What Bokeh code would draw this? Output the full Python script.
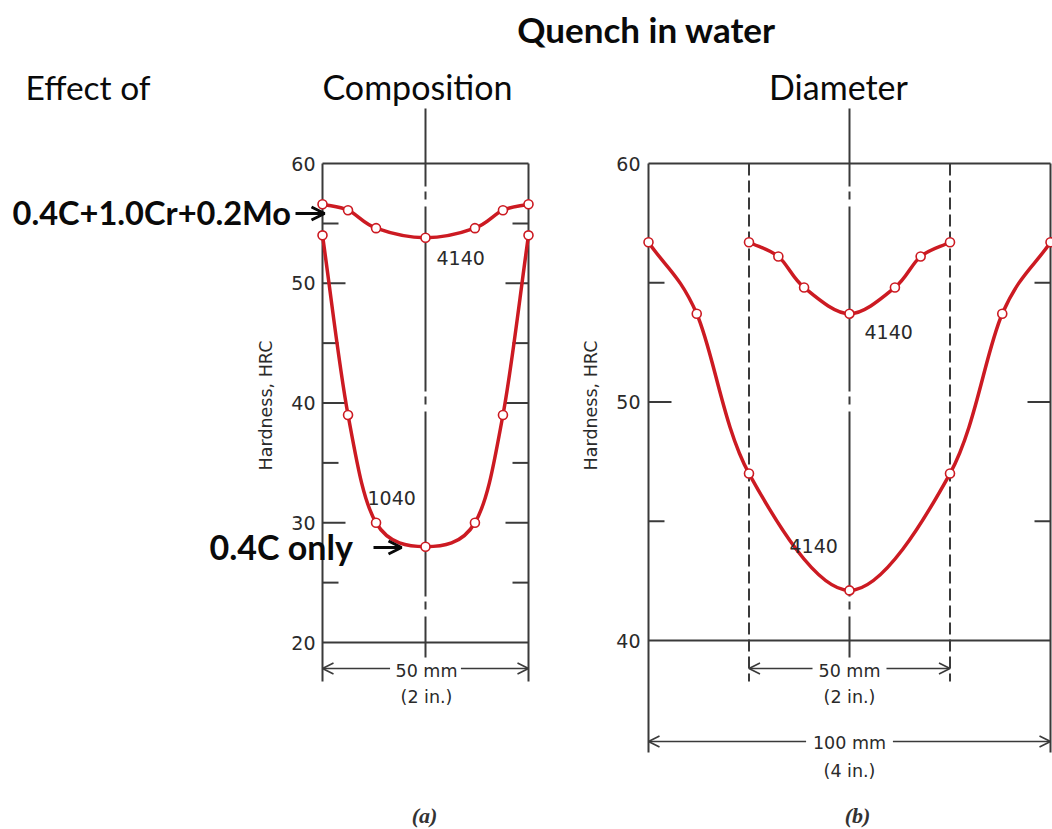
import numpy as np
from bokeh.plotting import figure
from bokeh.models import Range1d, ColumnDataSource, Arrow, OpenHead
from bokeh.core.properties import value
from bokeh.embed import file_html
from bokeh.resources import INLINE

# ---------------- data ----------------
# (a) Effect of composition: 50 mm (2 in.) bars quenched in water
pos_a_mm = [0, 6.2, 13, 25, 37, 43.8, 50]
hrc_a_4140 = [56.6, 56.1, 54.6, 53.8, 54.6, 56.1, 56.6]
hrc_a_1040 = [54, 39, 30, 28, 30, 39, 54]

# (b) Effect of diameter: 4140 quenched in water
pos_b50_mm = [-25, -17.7, -11.3, 0, 11.3, 17.7, 25]
hrc_b50_4140 = [56.7, 56.1, 54.8, 53.7, 54.8, 56.1, 56.7]
pos_b100_mm = [-50, -38, -25, 0, 25, 38, 50]
hrc_b100_4140 = [56.7, 53.7, 47.0, 42.1, 47.0, 53.7, 56.7]

# axis ticks
ticks_a_major = [30, 40, 50]
ticks_a_minor = [25, 35, 45, 55]
labels_a = [20, 30, 40, 50, 60]
ticks_b_major = [50]
ticks_b_minor = [45, 55]
labels_b = [40, 50, 60]

# ---------------- layout ----------------
W, H, M = 1052, 829, 0
RED = "#cc1a22"
INK = "#3a3a3a"
TXT = "#2a2a2a"


def xr(anchor_px, anchor_val, s):
    return Range1d(anchor_val + (M - anchor_px) / s, anchor_val + (M + W - anchor_px) / s)


def yr(anchor_px, anchor_val, s):
    return Range1d(anchor_val - (M + H - anchor_px) / s, anchor_val + (anchor_px - M) / s)


SXA, SYA = 4.12, 11.975      # panel (a) px per mm / per HRC
SXB, SYB = 4.02, 23.85       # panel (b)

p = figure(width=W, height=H, output_backend="svg", toolbar_location=None,
           title=None, x_axis_location=None, y_axis_location=None,
           x_range=xr(322, 0, SXA), y_range=yr(163, 60, SYA),
           min_border=0, outline_line_color=None,
           background_fill_color="white", border_fill_color="white")
p.extra_x_ranges = {"xb": xr(849, 0, SXB), "px": Range1d(M, M + W)}
p.extra_y_ranges = {"yb": yr(163, 60, SYB), "py": Range1d(M + H, M)}
p.xgrid.visible = False
p.ygrid.visible = False

A = dict()                                   # panel (a) ranges (default)
B = dict(x_range_name="xb", y_range_name="yb")
APX = dict(y_range_name="py")                # x in mm (a), y in page px
BPX = dict(x_range_name="xb", y_range_name="py")
PX = dict(x_range_name="px", y_range_name="py")

box = dict(line_color=INK, line_width=2)

# ---------- panel (a) frame ----------
p.segment(x0=[0, 0], y0=[60, 20], x1=[50, 50], y1=[60, 20], **box, **A)
p.segment(x0=[0, 50], y0=[163, 163], x1=[0, 50], y1=[681, 681], **box, **APX)
p.line(x=[25, 25], y=[108, 657], line_color=INK, line_width=2,
       line_dash="185 5 8 7", line_dash_offset=107, **APX)
for ticks, ln in ((ticks_a_major, 23 / SXA), (ticks_a_minor, 16 / SXA)):
    p.segment(x0=[0] * len(ticks), y0=ticks, x1=[ln] * len(ticks), y1=ticks, **box, **A)
    p.segment(x0=[50] * len(ticks), y0=ticks, x1=[50 - ln] * len(ticks), y1=ticks, **box, **A)

# ---------- panel (b) frame ----------
p.segment(x0=[-50, -50], y0=[60, 40], x1=[50, 50], y1=[60, 40], **box, **B)
p.segment(x0=[-50, 50], y0=[163, 163], x1=[-50, 50], y1=[752, 752], **box, **BPX)
p.segment(x0=[-25, 25], y0=[163, 163], x1=[-25, 25], y1=[681, 681],
          line_color=INK, line_width=2, line_dash="12 5", **BPX)
p.line(x=[0, 0], y=[108, 657], line_color=INK, line_width=2,
       line_dash="185 5 8 7", line_dash_offset=107, **BPX)
for ticks, ln in ((ticks_b_major, 23 / SXB), (ticks_b_minor, 16 / SXB)):
    p.segment(x0=[-50] * len(ticks), y0=ticks, x1=[-50 + ln] * len(ticks), y1=ticks, **box, **B)
    p.segment(x0=[50] * len(ticks), y0=ticks, x1=[50 - ln] * len(ticks), y1=ticks, **box, **B)


# ---------- smooth curves (Catmull-Rom drawn as Bezier glyphs) ----------
def bezier_src(xs, ys):
    P = np.column_stack([xs, ys]).astype(float)
    P = np.vstack([2 * P[0] - P[1], P, 2 * P[-1] - P[-2]])
    d = dict(x0=[], y0=[], x1=[], y1=[], cx0=[], cy0=[], cx1=[], cy1=[])
    for i in range(1, len(P) - 2):
        p0, p1, p2, p3 = P[i - 1], P[i], P[i + 1], P[i + 2]
        c0 = p1 + (p2 - p0) / 6.0
        c1 = p2 - (p3 - p1) / 6.0
        d["x0"].append(p1[0]); d["y0"].append(p1[1])
        d["x1"].append(p2[0]); d["y1"].append(p2[1])
        d["cx0"].append(c0[0]); d["cy0"].append(c0[1])
        d["cx1"].append(c1[0]); d["cy1"].append(c1[1])
    return ColumnDataSource(d)


curve = dict(line_color=RED, line_width=3.5)
mark = dict(marker="circle", size=9, fill_color="white", line_color=RED, line_width=1.6)

for xs, ys, rk in ((pos_a_mm, hrc_a_4140, A), (pos_a_mm, hrc_a_1040, A),
                   (pos_b50_mm, hrc_b50_4140, B), (pos_b100_mm, hrc_b100_4140, B)):
    p.bezier(x0="x0", y0="y0", x1="x1", y1="y1", cx0="cx0", cy0="cy0",
             cx1="cx1", cy1="cy1", source=bezier_src(xs, ys), **curve, **rk)
    p.scatter(x=xs, y=ys, **mark, **rk)


# ---------- dimension arrows ----------
def dim(x_c, half_gap, x_left, x_right, y, rng):
    for xs, xe in ((x_c - half_gap, x_left), (x_c + half_gap, x_right)):
        p.add_layout(Arrow(x_start=xs, y_start=y, x_end=xe, y_end=y,
                           line_color=INK, line_width=1.6,
                           end=OpenHead(size=11, line_width=1.6, line_color=INK),
                           **rng))


dim(25, 8.6, 0, 50, 668, dict(y_range_name="py"))
dim(0, 9.2, -25, 25, 668, dict(x_range_name="xb", y_range_name="py"))
dim(0, 10.8, -50, 50, 741, dict(x_range_name="xb", y_range_name="py"))

# ---------- chart texts ----------
chart_font = value("DejaVu Sans")
small = dict(text_font=chart_font, text_color=TXT)

p.text(x=[0] * len(labels_a), y=labels_a, text=[str(v) for v in labels_a],
       x_offset=-7, text_align="right", text_baseline="middle",
       text_font_size="19px", **small, **A)
p.text(x=[-50] * len(labels_b), y=labels_b, text=[str(v) for v in labels_b],
       x_offset=-8, text_align="right", text_baseline="middle",
       text_font_size="19px", **small, **B)

p.text(x=[265, 590], y=[405, 405], text=["Hardness, HRC"] * 2, angle=np.pi / 2,
       text_align="center", text_baseline="middle", text_font_size="17.5px",
       **small, **PX)

p.text(x=[436, 367, 864, 789], y=[257, 497, 331, 545],
       text=["4140", "1040", "4140", "4140"], text_align="left",
       text_baseline="middle", text_font_size="19px", **small, **PX)

p.text(x=[426, 849, 849], y=[670, 670, 742], text=["50 mm", "50 mm", "100 mm"],
       text_align="center", text_baseline="middle", text_font_size="17.5px", **small, **PX)
p.text(x=[426, 849, 849], y=[696, 696, 770], text=["(2 in.)", "(2 in.)", "(4 in.)"],
       text_align="center", text_baseline="middle", text_font_size="17.5px", **small, **PX)

p.text(x=[424, 857], y=[815, 815], text=["(a)", "(b)"], text_align="center",
       text_baseline="middle", text_font=value("Liberation Serif"),
       text_font_style="bold italic", text_font_size="22px", text_color="#333333", **PX)

# ---------- slide texts ----------
big = dict(text_font=value("Lato"), text_color="#0a0a0a", text_baseline="middle")
p.text(x=[646], y=[28], text=["Quench in water"], text_align="center",
       text_font_style="bold", text_font_size="35px", **big, **PX)
p.text(x=[25], y=[86], text=["Effect of"], text_align="left",
       text_font_size="33.5px", **big, **PX)
p.text(x=[417, 838], y=[86, 86], text=["Composition", "Diameter"],
       text_align="center", text_font_size="34px", **big, **PX)
p.text(x=[12], y=[212], text=["0.4C+1.0Cr+0.2Mo"], text_align="left",
       text_font_style="bold", text_font_size="32.6px", **big, **PX)
p.text(x=[209], y=[546], text=["0.4C only"], text_align="left",
       text_font_style="bold", text_font_size="34px", **big, **PX)
for xs, xe, y in ((295, 324, 213), (373, 401, 547)):
    p.add_layout(Arrow(x_start=xs, y_start=y, x_end=xe, y_end=y,
                       line_color="#0a0a0a", line_width=3,
                       end=OpenHead(size=13, line_width=3, line_color="#0a0a0a"),
                       **PX))

open("out.html", "w").write(file_html(p, INLINE))
